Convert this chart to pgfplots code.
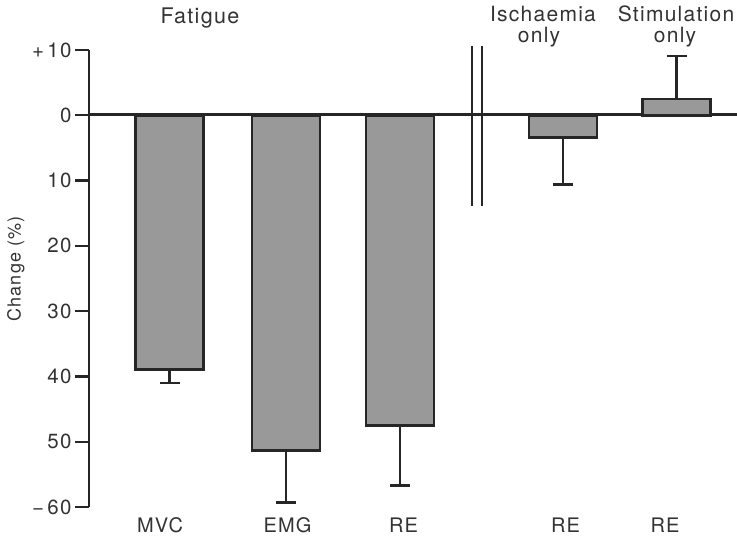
\documentclass[border=0pt]{standalone}
\usepackage{fontspec}
\setmainfont{TeX Gyre Heros}[LetterSpace=6]
\usepackage{pgfplots}
\pgfplotsset{compat=1.18}
\begin{document}
\begin{tikzpicture}[font=\fontsize{20bp}{24bp}\selectfont]
\useasboundingbox (0,0) rectangle (737bp,536bp);
\begin{axis}[
  at={(89bp,29bp)}, anchor=south west,
  scale only axis, width=648bp, height=457bp,
  xmin=89, xmax=737, ymin=-60, ymax=10,
  clip=false,
  axis x line=none,
  axis y line*=left,
  axis line style={line width=2.6bp, black!85},
  ytick={-60,-50,-40,-30,-20,-10,0,10},
  yticklabels={{−\,60},50,40,30,20,10,0,{+\,10}},
  tick align=outside, ytick pos=left,
  major tick length=14bp,
  every tick/.style={line width=2.2bp, black!85},
  /pgf/number format/assume math mode=true,
  tick label style={font=\fontsize{20.5bp}{24bp}\selectfont, text=black!80},
  ylabel={Change (\%)},
  ylabel style={at={(rel axis cs:-0.1127,0.5208)}, anchor=center, rotate=0,
                font=\fontsize{18bp}{22bp}\selectfont, text=black!80},
]
% zero line
\addplot[black!85, line width=2.6bp] coordinates {(89,0.15) (737,0.15)};
% axis break double line
\addplot[black!85, line width=2.4bp] coordinates {(472,10.6) (472,-13.9)};
\addplot[black!85, line width=2.4bp] coordinates {(482,10.6) (482,-13.9)};
% negative bars
\addplot[ybar, bar width=68, bar shift=0pt, fill=black!40, draw=black!85, line width=2.8bp,
  error bars/.cd, y dir=minus, y explicit,
  error bar style={line width=2.4bp, black!85},
  error mark options={rotate=90, mark size=10bp, line width=2.4bp, black!85}]
  coordinates {
    (169.5,-39.0) +- (0,2.0)
    (286,-51.3) +- (0,8.0)
    (400,-47.5) +- (0,9.2)
    (563,-3.4) +- (0,7.2)
  };
% positive bar
\addplot[ybar, bar width=68, bar shift=0pt, fill=black!40, draw=black!85, line width=2.8bp,
  error bars/.cd, y dir=plus, y explicit,
  error bar style={line width=2.4bp, black!85},
  error mark options={rotate=90, mark size=10bp, line width=2.4bp, black!85}]
  coordinates {
    (676.5,2.5) +- (0,6.6)
  };
% category labels
\node[anchor=base, text=black!80] at (axis cs:160,-63.97) {MVC};
\node[anchor=base, text=black!80] at (axis cs:287.5,-63.97) {EMG};
\node[anchor=base, text=black!80] at (axis cs:403.5,-63.97) {RE};
\node[anchor=base, text=black!80] at (axis cs:565.5,-63.97) {RE};
\node[anchor=base, text=black!80] at (axis cs:665,-63.97) {RE};
% group labels
\node[anchor=base west, text=black!80, font=\fontsize{21.5bp}{24bp}\selectfont] at (axis cs:157,14.1) {Fatigue};
\node[anchor=base, text=black!80, font=\fontsize{21bp}{24bp}\selectfont] at (axis cs:543,14.4) {Ischaemia};
\node[anchor=base, text=black!80, font=\fontsize{21bp}{24bp}\selectfont] at (axis cs:539,11.1) {only};
\node[anchor=base, text=black!80, font=\fontsize{21bp}{24bp}\selectfont] at (axis cs:676,14.4) {Stimulation};
\node[anchor=base, text=black!80, font=\fontsize{21bp}{24bp}\selectfont] at (axis cs:675,11.1) {only};
\end{axis}
\end{tikzpicture}
\end{document}
